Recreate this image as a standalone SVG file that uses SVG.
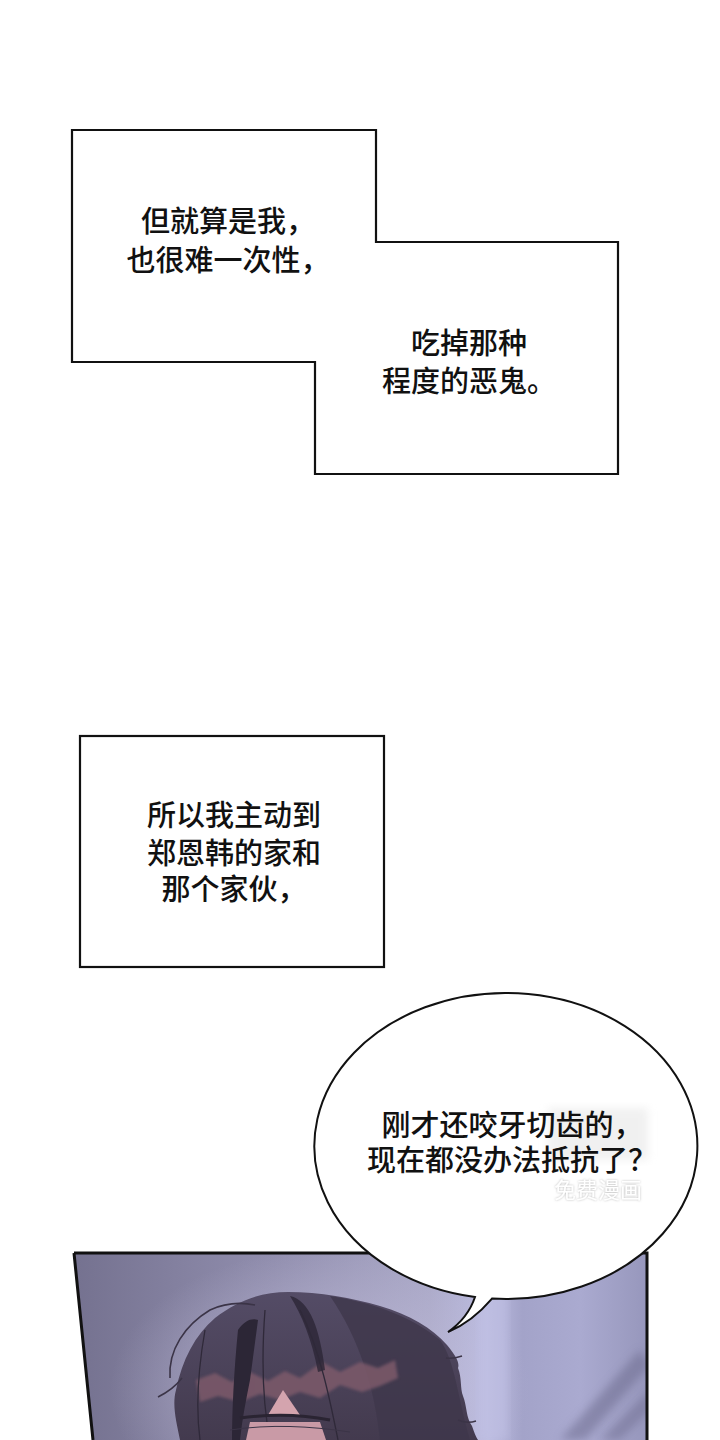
<svg xmlns="http://www.w3.org/2000/svg" width="720" height="1440" viewBox="0 0 720 1440">
<style>
.box{fill:#fff;stroke:#111;stroke-width:2.2;stroke-linejoin:miter}
.t{font-family:"Noto Sans CJK SC","Noto Sans",sans-serif;font-size:29px;font-weight:500;fill:#111;text-anchor:middle}
.wm{font-family:"Noto Sans CJK SC","Noto Sans",sans-serif;font-size:22px;fill:#fff;text-anchor:middle}
</style>
<defs>
<clipPath id="panelClip"><path d="M74 1253 H647 V1440 H93 Z"/></clipPath>
<linearGradient id="bg" x1="0" y1="0" x2="1" y2="0">
<stop offset="0" stop-color="#74718f"/>
<stop offset="0.35" stop-color="#918eae"/>
<stop offset="0.62" stop-color="#aba9c8"/>
<stop offset="0.72" stop-color="#bcbce0"/>
<stop offset="0.78" stop-color="#a3a3c9"/>
<stop offset="0.88" stop-color="#aaaad0"/>
<stop offset="1" stop-color="#9696bb"/>
</linearGradient>
<radialGradient id="glow" cx="0.5" cy="0.5" r="0.5">
<stop offset="0" stop-color="#c8c4e0" stop-opacity="0.75"/>
<stop offset="1" stop-color="#c8c4e0" stop-opacity="0"/>
</radialGradient>
<linearGradient id="hair" x1="0" y1="0" x2="0" y2="1">
<stop offset="0" stop-color="#544c66"/>
<stop offset="1" stop-color="#433a4e"/>
</linearGradient>
<filter id="blur4"><feGaussianBlur stdDeviation="4"/></filter>
<filter id="blur2"><feGaussianBlur stdDeviation="1.5"/></filter>
<filter id="wmShadow"><feDropShadow dx="0" dy="0" stdDeviation="1.2" flood-color="#999" flood-opacity="0.7"/></filter>
</defs>
<rect width="720" height="1440" fill="#fff"/>

<g id="caption-1">
<path class="box" d="M72 130 H376 V242 H618 V474 H315 V362 H72 Z"/>
<text class="t" x="228" y="232">但就算是我，</text>
<text class="t" x="228" y="271">也很难一次性，</text>
<text class="t" x="469" y="354">吃掉那种</text>
<text class="t" x="469" y="392">程度的恶鬼。</text>
</g>

<g id="caption-2">
<rect class="box" x="80" y="736" width="304" height="231"/>
<text class="t" x="234" y="826">所以我主动到</text>
<text class="t" x="234" y="864">郑恩韩的家和</text>
<text class="t" x="234" y="900">那个家伙，</text>
</g>

<g id="scene">
<g clip-path="url(#panelClip)">
<rect x="70" y="1250" width="580" height="190" fill="url(#bg)"/>
<ellipse cx="320" cy="1390" rx="210" ry="140" fill="url(#glow)"/>
<rect x="478" y="1250" width="30" height="190" fill="#c0c0e4" opacity="0.6" filter="url(#blur4)"/>
<path d="M560 1440 L640 1350 L650 1365 L585 1440 Z" fill="#6e6d90" opacity="0.55" filter="url(#blur4)"/>
<path d="M600 1440 L650 1390 L650 1410 L620 1440 Z" fill="#6e6d90" opacity="0.5" filter="url(#blur4)"/>
<!-- hair -->
<path fill="url(#hair)" d="M180 1440 C176 1420 172 1405 176 1390 C182 1360 195 1335 215 1318 C238 1300 262 1292 288 1292 C320 1292 352 1298 380 1306 C410 1315 432 1328 447 1345 C455 1355 460 1362 458 1368 C462 1378 460 1388 463 1396 C467 1406 466 1418 472 1426 C474 1432 476 1437 478 1440 Z"/>
<path fill="#3f374b" opacity="0.8" d="M330 1296 C370 1302 410 1315 440 1340 C455 1360 458 1400 470 1440 L380 1440 C375 1390 360 1340 330 1296 Z"/>
<path fill="none" stroke="#3b3447" stroke-width="1.6" d="M170 1378 C168 1350 185 1325 210 1310 C225 1303 240 1302 255 1305"/>
<path fill="none" stroke="#3b3447" stroke-width="1.6" d="M158 1397 C168 1392 176 1386 182 1378"/>
<path fill="none" stroke="#3b3447" stroke-width="1.4" d="M446 1358 C452 1359 456 1358 462 1356"/>
<path fill="none" stroke="#3b3447" stroke-width="1.4" d="M458 1420 C465 1423 470 1423 476 1421"/>
<!-- highlight band -->
<path fill="#7d5a6a" opacity="0.85" filter="url(#blur2)" d="M196 1380 L215 1373 L232 1382 L250 1372 L268 1381 L285 1371 L300 1378 L322 1362 L340 1372 L360 1362 L378 1368 L395 1360 L398 1378 L380 1386 L362 1392 L340 1385 L320 1398 L300 1392 L280 1400 L260 1394 L240 1402 L218 1396 L200 1402 Z"/>
<!-- dark strands -->
<path fill="#2c2636" d="M238 1330 C245 1320 252 1318 258 1320 L250 1380 C246 1400 242 1420 240 1440 L232 1440 C232 1410 234 1370 238 1330 Z"/>
<path fill="#2c2636" opacity="0.8" d="M290 1296 C310 1300 320 1330 325 1370 L318 1372 C312 1340 302 1315 290 1296 Z"/>
<path fill="none" stroke="#2f2939" stroke-width="1.3" d="M265 1310 C262 1350 262 1400 270 1440"/>
<path fill="none" stroke="#2f2939" stroke-width="1.3" d="M300 1310 C320 1350 330 1400 338 1440"/>
<path fill="none" stroke="#2f2939" stroke-width="1.3" d="M205 1330 C198 1370 196 1410 200 1440"/>
<!-- face -->
<path fill="#d4a4ae" d="M283 1390 L268 1415 L300 1415 Z"/>
<path fill="#c99aa6" d="M250 1422 L320 1422 L326 1440 L246 1440 Z"/>
<path fill="none" stroke="#2a2432" stroke-width="3" d="M240 1418 C270 1414 300 1414 330 1420"/>
<path fill="none" stroke="#3b3447" stroke-width="1" d="M230 1430 C270 1424 310 1426 350 1432"/>
</g>
<path d="M74 1253 H647 V1440 M93 1440 L74 1253" fill="none" stroke="#111" stroke-width="3"/>
</g>

<g id="bubble">
<path fill="#fff" stroke="#111" stroke-width="2" stroke-linejoin="miter" d="M492 1298.6 A191.5 153 0 1 0 475 1297 Q468 1318 448 1332 Q472 1322 492 1298.6 Z"/>
<rect x="548" y="1108" width="100" height="52" fill="#e2e2e2" opacity="0.5" filter="url(#blur4)"/>
<text class="t" x="512" y="1136">刚才还咬牙切齿的，</text>
<text class="t" x="512" y="1171">现在都没办法抵抗了？</text>
<text class="wm" x="598" y="1198" filter="url(#wmShadow)">免费漫画</text>
</g>
</svg>
